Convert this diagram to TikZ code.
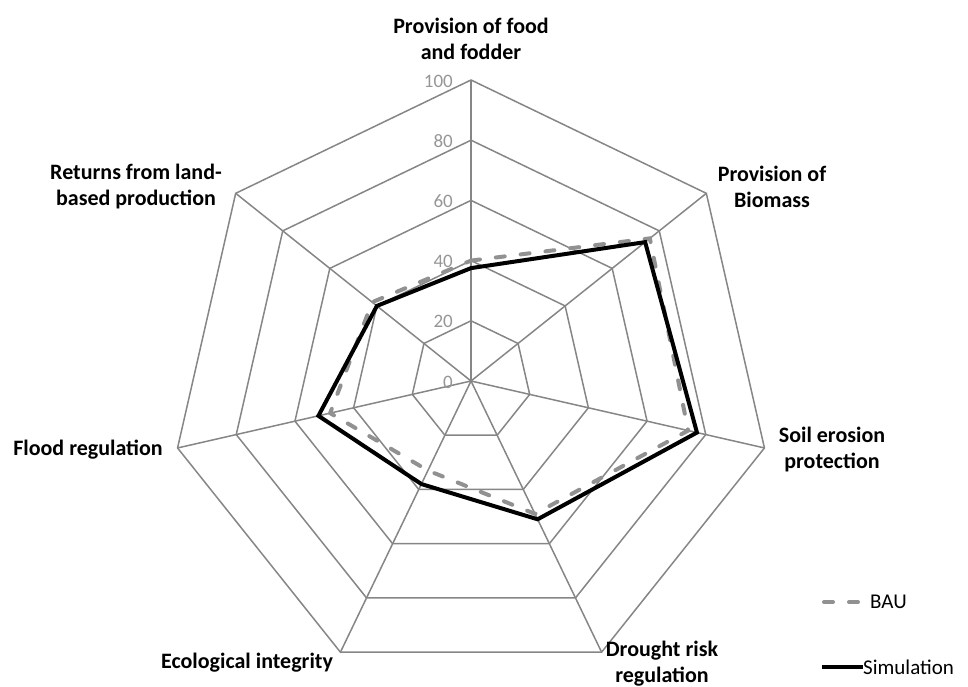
\documentclass[tikz,border=0pt]{standalone}
\usepackage{fontspec}
\setmainfont{Carlito}
\definecolor{gridgrey}{RGB}{134,134,134}
\definecolor{baugrey}{RGB}{145,145,145}
\definecolor{tickgrey}{RGB}{150,150,150}
\tikzset{
  gridline/.style={draw=gridgrey,line width=1.5pt},
  axislabel/.style={font=\fontsize{22}{26}\selectfont\bfseries,align=center,inner sep=0pt},
  ticklabel/.style={font=\fontsize{19}{19}\selectfont,text=tickgrey,anchor=east,inner sep=0pt},
  bauline/.style={draw=baugrey,line width=4pt,line cap=round,dash pattern=on 9pt off 16pt},
  simline/.style={draw=black,line width=4pt},
  legendtext/.style={font=\fontsize{21}{21}\selectfont,anchor=west,inner sep=0pt}
}

\begin{document}
\begin{tikzpicture}[x=1pt,y=1pt]
\useasboundingbox (0,0) rectangle (968,687);

\begin{scope}[shift={(471,306)}]
% rings and spokes
\foreach \r in {20,40,...,100}
  \draw[gridline] (90:{3.01*\r}) \foreach \k in {1,...,6} { -- ({90-\k*360/7}:{3.01*\r}) } -- cycle;
\foreach \k in {0,...,6}
  \draw[gridline] (0,0) -- ({90-\k*360/7}:301);
\foreach \r in {0,20,...,100}
  \node[ticklabel] (tick\r) at (-18,{3.01*\r-1}) {\r};

% series
\foreach \v [count=\k from 0] in {40,76,74,49,33,48,42}
  \coordinate (bau\k) at ({90-\k*360/7}:{3.01*\v});
\foreach \v [count=\k from 0] in {37.5,74,77,51,38,52,40}
  \coordinate (sim\k) at ({90-\k*360/7}:{3.01*\v});
\draw[bauline] (bau0) -- (bau1) -- (bau2) -- (bau3) -- (bau4) -- (bau5) -- (bau6) -- cycle;
\draw[simline] (sim0) -- (sim1) -- (sim2) -- (sim3) -- (sim4) -- (sim5) -- (sim6) -- cycle;
\end{scope}

% axis labels
\node[axislabel] (food) at (471,648) {Provision of food\\and fodder};
\node[axislabel] (biomass) at (772,500) {Provision of\\Biomass};
\node[axislabel] (soil) at (832,237) {Soil erosion\\protection};
\node[axislabel] (drought) at (662,23) {Drought risk\\regulation};
\node[axislabel] (ecol) at (247,24) {Ecological integrity};
\node[axislabel] (flood) at (88,237) {Flood regulation};
\node[axislabel] (returns) at (136,500) {Returns from land-\\based production};

% legend
\node[legendtext] (baulab) at (870,85) {BAU};
\coordinate (baustart) at (822,85);
\draw[bauline] ([xshift=2pt]baustart) -- ([xshift=-12pt]baulab.west);
\node[legendtext] (simlab) at (863,20) {Simulation};
\coordinate (simstart) at (822,20);
\draw[simline] (simstart) -- (simlab.west);
\end{tikzpicture}
\end{document}
